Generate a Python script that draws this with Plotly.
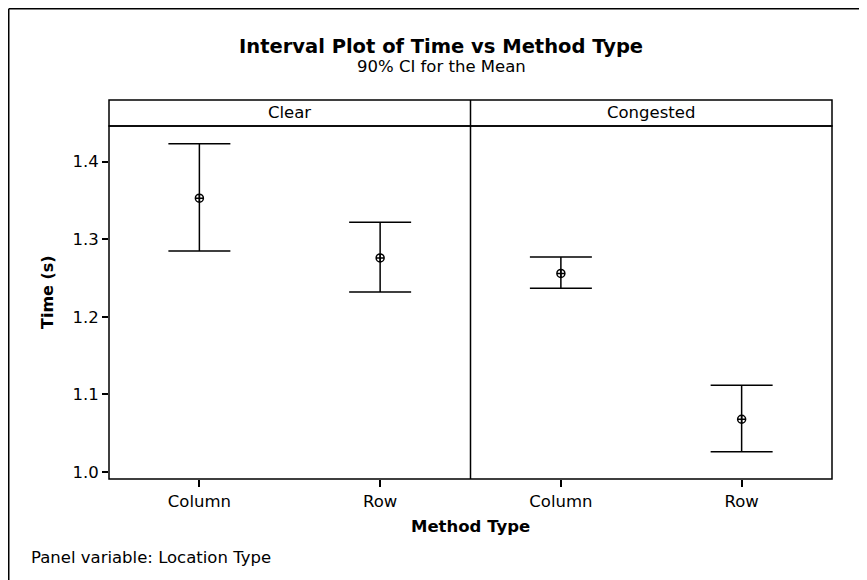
import plotly.graph_objects as go

# ---- data ----
panels = ["Clear", "Congested"]
methods = ["Column", "Row"]
clear_mean = [1.353, 1.276]
clear_lower = [1.285, 1.232]
clear_upper = [1.423, 1.322]
cong_mean = [1.256, 1.068]
cong_lower = [1.237, 1.026]
cong_upper = [1.277, 1.112]
y_ticks = [1.0, 1.1, 1.2, 1.3, 1.4]

W, H = 867, 580
OFF = 8  # page body margin
ML, MR, MT, MB = 101, 43, 92, 109
PW, PH = W - ML - MR, H - MT - MB


def px(x):  # screen pixel -> paper
    return (x - OFF - ML) / PW


def py(y):
    return (H - MB - (y - OFF)) / PH


FONT = "DejaVu Sans"
LW = 1.5
data_top = py(126)
split = px(470.5)

fig = go.Figure()
for i, (m, lo, up) in enumerate([(clear_mean, clear_lower, clear_upper),
                                 (cong_mean, cong_lower, cong_upper)]):
    fig.add_trace(go.Scatter(
        x=methods, y=m, mode="markers",
        marker=dict(symbol="circle-cross-open", size=8, color="black",
                    line=dict(width=1.5, color="black")),
        error_y=dict(type="data", symmetric=False,
                     array=[u - v for u, v in zip(up, m)],
                     arrayminus=[v - l for v, l in zip(m, lo)],
                     color="black", thickness=LW, width=31),
        xaxis="x" if i == 0 else "x2", yaxis="y" if i == 0 else "y2",
        showlegend=False, hoverinfo="skip"))

axis_x = dict(type="category", categoryorder="array", categoryarray=methods,
              range=[-0.5, 1.5], showgrid=False, zeroline=False,
              ticks="outside", ticklen=7, tickwidth=1.5, tickcolor="black",
              showline=False, tickfont=dict(family=FONT, size=16.5, color="black"))
fig.update_layout(
    width=W, height=H,
    margin=dict(l=ML, r=MR, t=MT, b=MB, pad=0),
    paper_bgcolor="white", plot_bgcolor="white",
    font=dict(family=FONT, color="black"),
    xaxis=dict(domain=[0, split], **axis_x),
    xaxis2=dict(domain=[split, 1], anchor="y2", **axis_x),
    yaxis=dict(domain=[0, data_top], range=[0.991, 1.446], tickvals=y_ticks,
               tickformat=".1f", ticks="outside", ticklen=6, tickwidth=1.5,
               tickcolor="black", showgrid=False, zeroline=False, showline=False,
               tickfont=dict(family=FONT, size=16.5, color="black")),
    yaxis2=dict(domain=[0, data_top], matches="y", anchor="x2",
                showticklabels=False, ticks="", showgrid=False, zeroline=False),
)

shapes = [
    # panel boxes
    dict(type="rect", xref="paper", yref="paper", x0=0, x1=1, y0=0, y1=data_top,
         line=dict(color="black", width=LW)),
    dict(type="line", xref="paper", yref="paper", x0=split, x1=split, y0=0, y1=1,
         line=dict(color="black", width=LW)),
    # strip
    dict(type="rect", xref="paper", yref="paper", x0=0, x1=1, y0=data_top, y1=1,
         line=dict(color="black", width=LW)),
    # outer frame (left + top edges visible)
    dict(type="line", xref="paper", yref="paper", x0=px(OFF + 0.75), x1=px(OFF + 0.75),
         y0=py(OFF + H), y1=py(OFF + 0.75), line=dict(color="black", width=LW)),
    dict(type="line", xref="paper", yref="paper", x0=px(OFF + 0.75), x1=px(OFF + W),
         y0=py(OFF + 0.75), y1=py(OFF + 0.75), line=dict(color="black", width=LW)),
]
fig.update_layout(shapes=shapes)

ann = [
    dict(text="<b>Interval Plot of Time vs Method Type</b>", x=px(441), y=py(47),
         font=dict(size=19.5)),
    dict(text="90% CI for the Mean", x=px(441), y=py(66), font=dict(size=16.5)),
    dict(text=panels[0], x=split / 2, y=py(112.5), font=dict(size=16.5)),
    dict(text=panels[1], x=(split + 1) / 2, y=py(112.5), font=dict(size=16.5)),
    dict(text="<b>Method Type</b>", x=px(470), y=py(526), font=dict(size=16.5)),
    dict(text="<b>Time (s)</b>", x=px(47), y=py(292), textangle=-90, font=dict(size=16)),
    dict(text="Panel variable: Location Type", x=px(29), y=py(557), xanchor="left",
         font=dict(size=16.5)),
]
for a in ann:
    a.setdefault("xanchor", "center")
    a.update(xref="paper", yref="paper", yanchor="middle", showarrow=False)
    a["font"].update(family=FONT, color="black")
fig.update_layout(annotations=ann)

fig.write_html("out.html")
